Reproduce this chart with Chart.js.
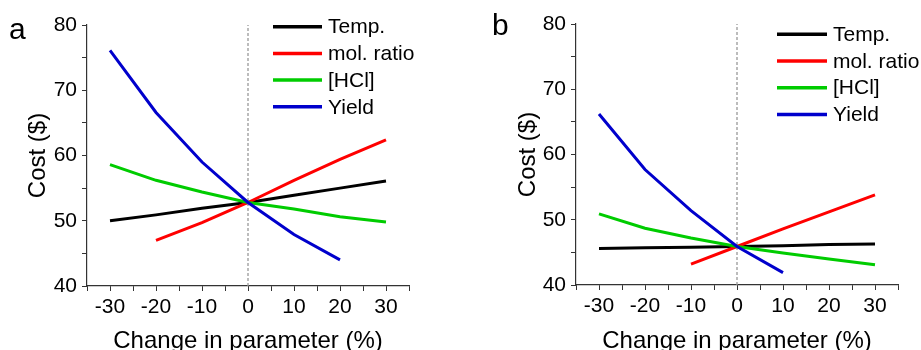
<!DOCTYPE html>
<html>
<head>
<meta charset="utf-8">
<script src="https://cdn.jsdelivr.net/npm/chart.js@4.4.0/dist/chart.umd.min.js"></script>
<style>
body { margin: 0; background: #fff; overflow: hidden; }
#wrap { position: relative; width: 921px; height: 350px; }
canvas { position: absolute; top: 0; }
#chartA { left: 0; }
#chartB { left: 460px; }
</style>
</head>
<body>
<div id="wrap">
  <canvas id="chartA" width="460" height="350"></canvas>
  <canvas id="chartB" width="461" height="350"></canvas>
</div>
<script>
// change in each parameter (%)
var changes = [-30, -20, -10, 0, 10, 20, 30];
var seriesNames = ['Temp.', 'mol. ratio', '[HCl]', 'Yield'];
var seriesColors = ['#000000', '#ff0000', '#00cc00', '#0000cc'];

// cost ($), panel a
var tempA  = [50.0, 50.9, 51.9, 52.8, 53.9, 55.0, 56.1];
var ratioA = [null, 47.0, 49.7, 52.8, 56.2, 59.4, 62.4];
var hclA   = [58.6, 56.2, 54.4, 52.8, 51.8, 50.6, 49.8];
var yieldA = [76.1, 66.6, 59.0, 52.8, 47.9, 44.0, null];

// cost ($), panel b
var tempB  = [45.6, 45.7, 45.8, 45.9, 46.0, 46.2, 46.3];
var ratioB = [null, null, 43.2, 45.9, 48.6, 51.2, 53.8];
var hclB   = [50.9, 48.7, 47.2, 45.9, 44.9, 44.0, 43.1];
var yieldB = [66.2, 57.7, 51.4, 45.9, 41.9, null, null];

// labelled ticks (minor ticks every 5 are left blank)
var xTicks = [-30, -20, -10, 0, 10, 20, 30];
var yTicks = [40, 50, 60, 70, 80];

// dashed marker at 0 % change
var zeroLine = [{ x: 0, y: 40 }, { x: 0, y: 80 }];

Chart.defaults.font.family = '"Liberation Sans", Arial, sans-serif';
Chart.defaults.color = '#000';

function buildDatasets(cols) {
  var sets = cols.map(function (vals, i) {
    return {
      label: seriesNames[i],
      data: changes.map(function (c, j) { return { x: c, y: vals[j] }; }),
      borderColor: seriesColors[i],
      borderWidth: 3,
      pointRadius: 0,
      tension: 0,
      order: 4 - i
    };
  });
  sets.push({
    label: 'zero',
    data: zeroLine,
    borderColor: '#999999',
    borderWidth: 1.3,
    borderDash: [3, 2],
    pointRadius: 0,
    order: 10
  });
  return sets;
}

// legend at the upper right plus the panel letter
var sideLegend = {
  id: 'sideLegend',
  afterDraw: function (chart, args, opts) {
    var ctx = chart.ctx;
    ctx.save();
    ctx.font = '21px "Liberation Sans", Arial, sans-serif';
    ctx.textBaseline = 'middle';
    ctx.fillStyle = '#000';
    seriesNames.forEach(function (name, i) {
      var y = opts.top + i * opts.gap;
      ctx.strokeStyle = seriesColors[i];
      ctx.lineWidth = 3.5;
      ctx.beginPath();
      ctx.moveTo(opts.left, y);
      ctx.lineTo(opts.left + opts.len, y);
      ctx.stroke();
      ctx.fillText(name, opts.left + opts.len + 6, y + 1);
    });
    ctx.font = '30px "Liberation Sans", Arial, sans-serif';
    ctx.textBaseline = 'alphabetic';
    ctx.fillText(opts.tag, opts.tagX, opts.tagY);
    ctx.restore();
  }
};

function makeScales(xHeight, yWidth) {
  return {
    x: {
      type: 'linear',
      min: -35,
      max: 35,
      afterFit: function (s) { s.height = xHeight; },
      ticks: {
        stepSize: 5,
        autoSkip: false,
        maxRotation: 0,
        padding: 4,
        color: '#000',
        font: { size: 21 },
        callback: function (v) { return xTicks.indexOf(v) >= 0 ? String(v) : ''; }
      },
      grid: { drawOnChartArea: false, tickLength: 5, color: '#333', tickWidth: 1 },
      border: { color: '#333', width: 1.2 },
      title: {
        display: true,
        text: 'Change in parameter (%)',
        color: '#000',
        font: { size: 24, lineHeight: 0.7 },
        padding: 0
      }
    },
    y: {
      min: 40,
      max: 80,
      afterFit: function (s) { s.width = yWidth; },
      ticks: {
        stepSize: 5,
        autoSkip: false,
        padding: 5,
        color: '#000',
        font: { size: 21 },
        callback: function (v) { return yTicks.indexOf(v) >= 0 ? String(v) : ''; }
      },
      grid: { drawOnChartArea: false, tickLength: 5, color: '#333', tickWidth: 1 },
      border: { color: '#333', width: 1.2 },
      title: {
        display: true,
        text: 'Cost ($)',
        color: '#000',
        font: { size: 24, lineHeight: 1 },
        padding: { top: 26, bottom: 0 }
      }
    }
  };
}

function makeChart(id, cols, pad, xHeight, yWidth, legendOpts) {
  return new Chart(document.getElementById(id), {
    type: 'line',
    data: { datasets: buildDatasets(cols) },
    options: {
      responsive: false,
      animation: false,
      layout: { padding: pad },
      scales: makeScales(xHeight, yWidth),
      plugins: {
        legend: { display: false },
        tooltip: { enabled: false },
        sideLegend: legendOpts
      }
    },
    plugins: [sideLegend]
  });
}

var chartA = makeChart('chartA', [tempA, ratioA, hclA, yieldA],
  { left: 0, top: 25, right: 51, bottom: 0 }, 64, 87,
  { left: 273, len: 49, top: 26.7, gap: 26.7, tag: 'a', tagX: 9, tagY: 39 });

var chartB = makeChart('chartB', [tempB, ratioB, hclB, yieldB],
  { left: 30, top: 24, right: 23, bottom: 0 }, 65, 86,
  { left: 317, len: 50, top: 34.3, gap: 26.7, tag: 'b', tagX: 32, tagY: 35 });
</script>
</body>
</html>
